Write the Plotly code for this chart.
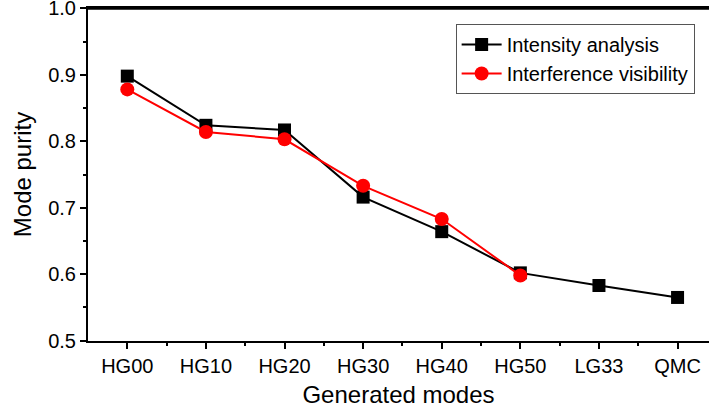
import plotly.graph_objects as go

categories = ["HG00", "HG10", "HG20", "HG30", "HG40", "HG50", "LG33", "QMC"]
intensity = [0.898, 0.824, 0.817, 0.716, 0.664, 0.602, 0.583, 0.565]
visibility = [0.878, 0.814, 0.803, 0.733, 0.683, 0.598]

xi = list(range(len(categories)))

fig = go.Figure()
fig.add_trace(go.Scatter(
    x=xi, y=intensity, mode="lines+markers", name="Intensity analysis",
    line=dict(color="black", width=2),
    marker=dict(symbol="square", size=13, color="black"),
))
fig.add_trace(go.Scatter(
    x=xi[:len(visibility)], y=visibility, mode="lines+markers", name="Interference visibility",
    line=dict(color="#ff0000", width=2),
    marker=dict(symbol="circle", size=14, color="#ff0000"),
))

font = "Liberation Sans, Arial, sans-serif"
fig.update_layout(
    width=709, height=416,
    margin=dict(l=88, r=0, t=8, b=75),
    paper_bgcolor="white", plot_bgcolor="white",
    font=dict(family=font, color="black", size=20),
    showlegend=True,
    legend=dict(
        x=0.592, y=0.952, xanchor="left", yanchor="top",
        bordercolor="#555555", borderwidth=1, bgcolor="white",
        font=dict(size=20, family=font), tracegroupgap=0,
        itemwidth=40,
    ),
    xaxis=dict(
        range=[-0.5, 7.4], tickmode="array", tickvals=xi, ticktext=categories,
        showline=True, linecolor="black", linewidth=2, mirror=True,
        ticks="outside", ticklen=6, tickwidth=2, tickcolor="black",
        minor=dict(tickvals=[i + 0.5 for i in xi], ticks="outside", ticklen=3, tickwidth=2, tickcolor="black"),
        showgrid=False, zeroline=False, automargin=False,
        title=dict(text="Generated modes", font=dict(size=24, family=font), standoff=10),
        tickfont=dict(size=20, family=font), ticklabeloverflow="allow",
    ),
    yaxis=dict(
        range=[0.4995, 1.0005], tickmode="array", tickvals=[0.5, 0.6, 0.7, 0.8, 0.9, 1.0],
        ticktext=["0.5", "0.6", "0.7", "0.8", "0.9", "1.0"],
        showline=True, linecolor="black", linewidth=2, mirror=False,
        ticks="outside", ticklen=6, tickwidth=2, tickcolor="black",
        minor=dict(tickvals=[0.55, 0.65, 0.75, 0.85, 0.95], ticks="outside", ticklen=3, tickwidth=2, tickcolor="black"),
        showgrid=False, zeroline=False, automargin=False,
        title=dict(text="Mode purity", font=dict(size=24, family=font), standoff=10),
        tickfont=dict(size=20, family=font), ticklabeloverflow="allow",
    ),
    shapes=[dict(type="line", xref="paper", yref="paper", x0=0, x1=1, y0=0.998, y1=0.998,
                 line=dict(color="black", width=2), layer="above")],
)

fig.write_html("out.html")
